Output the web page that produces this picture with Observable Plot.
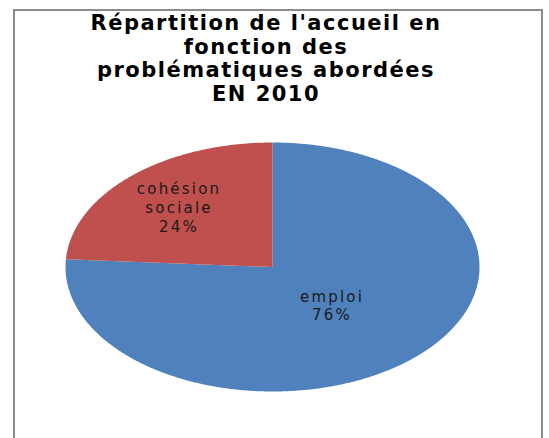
<!DOCTYPE html>
<html><head><meta charset="utf-8">
<script src="https://cdn.jsdelivr.net/npm/d3@7"></script>
<script src="https://cdn.jsdelivr.net/npm/@observablehq/plot@0.6"></script>
<style>
html,body{margin:0;padding:0;background:#fff;}
#frame{position:absolute;left:13px;top:9px;width:530px;height:440px;border:2px solid #8c8c8c;border-bottom:none;box-sizing:border-box;overflow:hidden;}
#title{font-family:"DejaVu Sans",sans-serif;font-weight:bold;font-size:21px;line-height:23.5px;text-align:center;letter-spacing:1.5px;padding-top:1px;padding-right:24px;color:#000;}
</style></head><body>
<div id="frame">
<div id="title">Répartition de l'accueil en<br>fonction des<br>problématiques abordées<br>EN 2010</div>
<div id="chart"></div>
</div>
<script>
const categories = ["emploi", "cohésion sociale"];
const values = [76, 24];
const labelTexts = ["emploi\n76%", "cohésion\nsociale\n24%"];
const colors = ["#4F81BD", "#C0504D"];

const total = d3.sum(values);
const arcs = d3.pie().sort(null).value(d => d)(values);

// Polygon outline of each slice, in unit-circle coordinates (angle clockwise from 12 o'clock)
const points = [];
arcs.forEach((a, i) => {
  const name = categories[i];
  points.push({name, x: 0, y: 0});
  const n = Math.max(2, Math.ceil((a.endAngle - a.startAngle) / 0.005));
  for (let k = 0; k <= n; k++) {
    const t = a.startAngle + (a.endAngle - a.startAngle) * k / n;
    points.push({name, x: Math.sin(t), y: Math.cos(t)});
  }
  points.push({name, x: 0, y: 0});
});

// Labels placed along each slice's mid-angle; smaller slices put their label further out
const labels = arcs.map((a, i) => {
  const share = values[i] / total;
  const r = 0.77 - 0.46 * share;
  const m = (a.startAngle + a.endAngle) / 2;
  return {name: categories[i], text: labelTexts[i], x: r * Math.sin(m), y: r * Math.cos(m)};
});

const chartDiv = document.getElementById("chart");
const box = chartDiv.getBoundingClientRect();
const top0 = box.top, left0 = box.left;
const W = box.width;
const H = 438 - top0 + 10;

const plot = Plot.plot({
  width: W,
  height: H,
  marginLeft: 65 - left0,
  marginRight: W - (479 - left0),
  marginTop: 142 - top0,
  marginBottom: H - (391 - top0),
  x: {domain: [-1, 1], axis: null},
  y: {domain: [-1, 1], axis: null},
  color: {domain: categories, range: colors},
  style: {fontFamily: "DejaVu Sans, sans-serif", letterSpacing: "2.2px", background: "transparent"},
  marks: [
    Plot.line(points, {x: "x", y: "y", z: "name", fill: "name", stroke: "none"}),
    Plot.text(labels, {x: "x", y: "y", text: "text", fontSize: 15, lineHeight: 1.24, fill: "#1a1a1a", textAnchor: "middle"})
  ]
});
chartDiv.appendChild(plot);
</script>
</body></html>
